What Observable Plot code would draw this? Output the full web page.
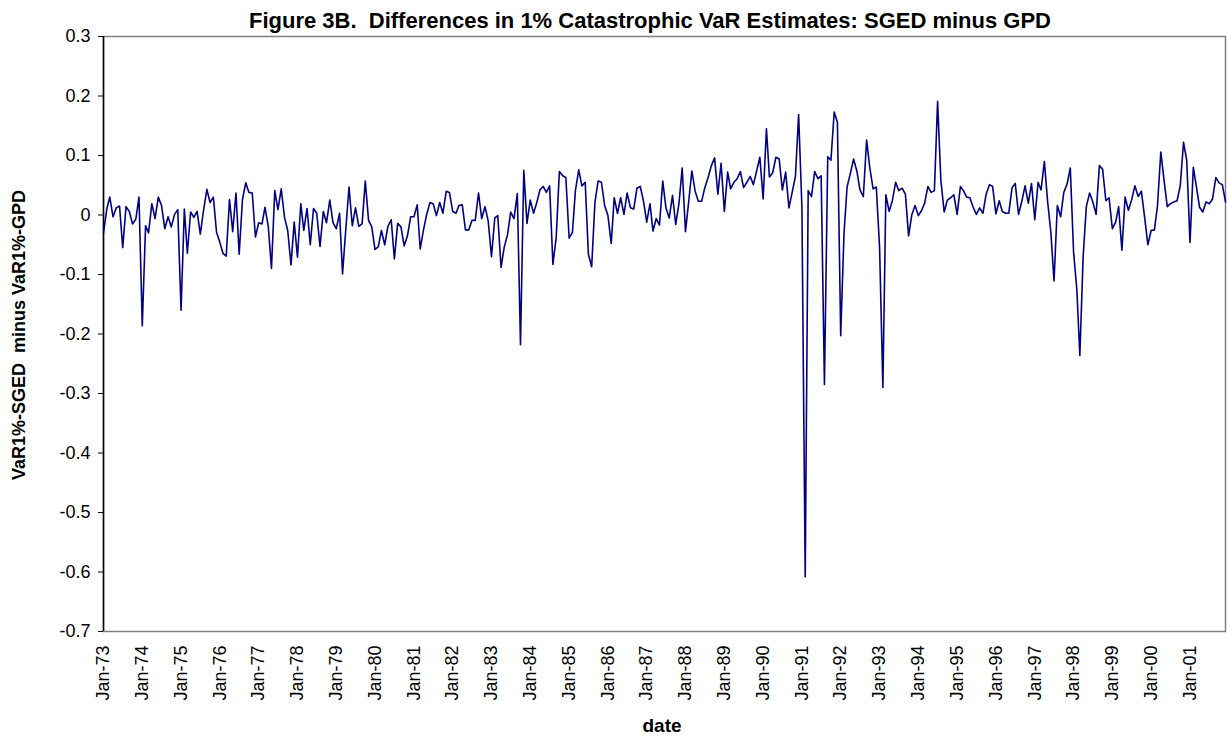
<!DOCTYPE html>
<html><head><meta charset="utf-8">
<script src="https://cdn.jsdelivr.net/npm/d3@7"></script>
<script src="https://cdn.jsdelivr.net/npm/@observablehq/plot@0.6"></script>
<style>
body{margin:0;background:#fff;}
#chart svg{display:block;}
</style>
</head><body><div id="chart"></div>
<script>
const startYear = 1973;
// monthly values, Jan-73 .. Dec-79
const values1970s = [
 -0.03, 0.01, 0.03, -0.003, 0.012, 0.015, -0.055, 0.014, 0.006, -0.015, -0.007, 0.03,
 -0.186, -0.018, -0.03, 0.019, -0.006, 0.03, 0.016, -0.023, -0.003, -0.02, 0.001, 0.009,
 -0.16, 0.01, -0.064, 0.005, -0.004, 0.006, -0.032, 0.008, 0.043, 0.021, 0.03, -0.029,
 -0.046, -0.065, -0.069, 0.026, -0.028, 0.037, -0.066, 0.026, 0.054, 0.038, 0.037, -0.037,
 -0.013, -0.015, 0.013, -0.019, -0.09, 0.041, 0.009, 0.044, -0.004, -0.026, -0.084, -0.012,
 -0.071, 0.019, -0.026, 0.011, -0.05, 0.011, 0.003, -0.053, 0.006, -0.013, 0.025, -0.013,
 -0.023, 0.003, -0.099, -0.023, 0.047, -0.018, 0.012, -0.019, -0.015, 0.057, -0.009, -0.02
];
// Jan-80 .. Dec-89
const values1980s = [
 -0.058, -0.053, -0.026, -0.05, -0.019, -0.008, -0.074, -0.014, -0.02, -0.052, -0.035, -0.003,
 -0.003, 0.017, -0.057, -0.025, 0.001, 0.021, 0.019, -0.001, 0.021, 0.003, 0.04, 0.038,
 0.006, 0.003, 0.016, 0.017, -0.025, -0.025, -0.009, -0.009, 0.037, -0.006, 0.014, -0.01,
 -0.07, -0.005, -0.001, -0.088, -0.054, -0.033, 0.005, -0.006, 0.036, -0.218, 0.075, -0.014,
 0.025, 0.003, 0.02, 0.042, 0.048, 0.038, 0.049, -0.083, -0.038, 0.073, 0.066, 0.063,
 -0.039, -0.029, 0.041, 0.076, 0.049, 0.055, -0.066, -0.087, 0.022, 0.057, 0.055, 0.016,
 -0.001, -0.048, 0.029, 0.003, 0.029, 0.001, 0.037, 0.012, 0.01, 0.045, 0.048, 0.024,
 -0.012, 0.019, -0.027, -0.006, -0.017, 0.057, 0.012, -0.005, 0.033, -0.016, 0.02, 0.079,
 -0.028, 0.024, 0.074, 0.04, 0.023, 0.023, 0.046, 0.063, 0.083, 0.096, 0.035, 0.087,
 0.006, 0.072, 0.044, 0.055, 0.061, 0.073, 0.046, 0.055, 0.065, 0.051, 0.074, 0.097
];
// Jan-90 .. Dec-99
const values1990s = [
 0.027, 0.145, 0.064, 0.071, 0.097, 0.094, 0.042, 0.072, 0.012, 0.038, 0.065, 0.169,
 0.013, -0.608, 0.041, 0.031, 0.073, 0.061, 0.066, -0.285, 0.098, 0.092, 0.173, 0.156,
 -0.203, -0.032, 0.047, 0.07, 0.094, 0.074, 0.042, 0.031, 0.126, 0.079, 0.044, 0.047,
 -0.054, -0.29, 0.034, 0.006, 0.024, 0.055, 0.041, 0.045, 0.035, -0.035, 0.001, 0.016,
 -0.001, 0.008, 0.02, 0.048, 0.038, 0.041, 0.191, 0.058, 0.005, 0.025, 0.029, 0.034,
 0.001, 0.048, 0.041, 0.03, 0.029, 0.013, 0.001, 0.012, 0.003, 0.035, 0.051, 0.048,
 0.002, 0.024, 0.006, 0.003, 0.003, 0.046, 0.053, 0.001, 0.023, 0.049, 0.02, 0.053,
 -0.008, 0.055, 0.042, 0.09, 0.024, -0.029, -0.111, 0.016, -0.003, 0.038, 0.052, 0.079,
 -0.062, -0.126, -0.236, -0.07, 0.014, 0.037, 0.022, 0.001, 0.083, 0.077, 0.024, 0.029,
 -0.023, -0.012, 0.014, -0.059, 0.03, 0.008, 0.025, 0.049, 0.031, 0.04, -0.004, -0.05
];
// Jan-00 .. Dec-01
const values2000s = [
 -0.026, -0.025, 0.016, 0.106, 0.059, 0.014, 0.019, 0.022, 0.024, 0.049, 0.122, 0.092,
 -0.046, 0.08, 0.049, 0.013, 0.005, 0.022, 0.019, 0.027, 0.063, 0.054, 0.051, 0.022
];

const yTicks = [0.3, 0.2, 0.1, 0, -0.1, -0.2, -0.3, -0.4, -0.5, -0.6, -0.7];
const yTickLabels = ["0.3", "0.2", "0.1", "0", "-0.1", "-0.2", "-0.3", "-0.4", "-0.5", "-0.6", "-0.7"];
const tickYears = d3.range(1973, 2002);

const titleText = "Figure 3B.  Differences in 1% Catastrophic VaR Estimates: SGED minus GPD";
const yLabelText = "VaR1%-SGED  minus VaR1%-GPD";
const xLabelText = "date";

const values = [...values1970s, ...values1980s, ...values1990s, ...values2000s];
const data = values.map((v, i) => ({date: new Date(Date.UTC(startYear, i, 1)), value: v}));
const xTicks = tickYears.map(y => new Date(Date.UTC(y, 0, 1)));
const fmt = d3.utcFormat("%b-%y");

const font = "'Liberation Sans', Arial, Helvetica, sans-serif";

const chart = Plot.plot({
  width: 1227,
  height: 737,
  marginLeft: 103,
  marginRight: 2,
  marginTop: 36,
  marginBottom: 106,
  style: {fontFamily: font, fontSize: "18px", color: "#000", background: "#fff", overflow: "visible"},
  x: {
    type: "utc",
    domain: [data[0].date, data[data.length - 1].date],
    ticks: xTicks,
    tickFormat: fmt,
    tickRotate: -90,
    tickSize: 0,
    tickPadding: 14,
    label: null
  },
  y: {
    domain: [-0.7, 0.3],
    ticks: yTicks,
    tickFormat: d => yTickLabels[yTicks.findIndex(t => Math.abs(t - d) < 1e-9)],
    tickSize: 5,
    tickPadding: 8,
    label: null
  },
  marks: [
    Plot.frame({stroke: "#808080", strokeWidth: 1.5}),
    Plot.ruleX([data[0].date], {stroke: "#000", strokeWidth: 1.5}),
    Plot.line(data, {x: "date", y: "value", stroke: "#000080", strokeWidth: 1.6})
  ]
});

const svg = d3.select(chart);
svg.append("text")
  .attr("x", 650).attr("y", 28)
  .attr("text-anchor", "middle")
  .attr("font-family", font).attr("font-weight", "bold").attr("font-size", 22)
  .attr("fill", "#000")
  .text(titleText);
svg.append("text")
  .attr("transform", "translate(25,335) rotate(-90)")
  .attr("text-anchor", "middle")
  .attr("font-family", font).attr("font-weight", "bold").attr("font-size", 18)
  .attr("fill", "#000")
  .text(yLabelText);
svg.append("text")
  .attr("x", 662).attr("y", 732)
  .attr("text-anchor", "middle")
  .attr("font-family", font).attr("font-weight", "bold").attr("font-size", 19)
  .attr("fill", "#000")
  .text(xLabelText);

document.getElementById("chart").appendChild(chart);
</script>
</body></html>
